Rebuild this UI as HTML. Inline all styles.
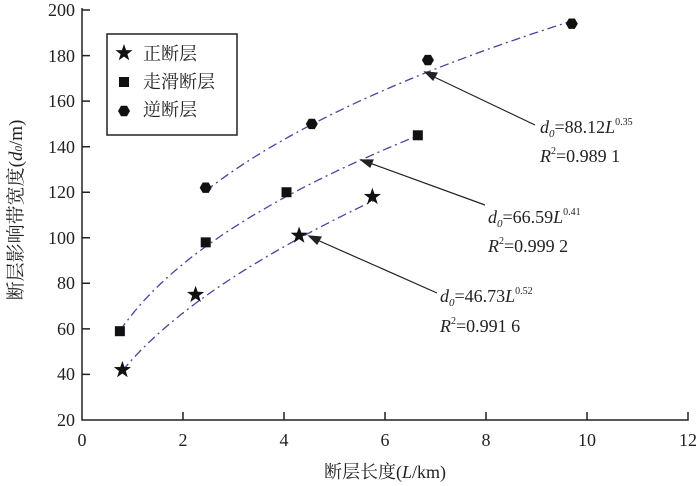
<!DOCTYPE html><html><head><meta charset="utf-8"><style>body{margin:0;background:#fff}svg{display:block}text{font-family:"Liberation Serif","Noto Serif CJK SC",serif;fill:#222}</style></head><body>
<svg id="s" width="700" height="486" xmlns="http://www.w3.org/2000/svg">
<g stroke="#222" stroke-width="1.5" fill="none">
<path d="M82,8 V420 H688 V412"/>
<path d="M82,10h8M82,55.6h8M82,101.1h8M82,146.7h8M82,192.2h8M82,237.8h8M82,283.3h8M82,328.9h8M82,374.4h8"/>
<path d="M183,420v-8M284,420v-8M385,420v-8M486,420v-8M587,420v-8"/>
</g>
<g font-size="18" text-anchor="end">
<text x="75" y="16">200</text><text x="75" y="62">180</text><text x="75" y="107">160</text><text x="75" y="153">140</text><text x="75" y="198">120</text><text x="75" y="244">100</text><text x="75" y="289">80</text><text x="75" y="335">60</text><text x="75" y="380">40</text><text x="75" y="426">20</text>
</g>
<g font-size="18" text-anchor="middle">
<text x="82" y="446">0</text><text x="183" y="446">2</text><text x="284" y="446">4</text><text x="385" y="446">6</text><text x="486" y="446">8</text><text x="587" y="446">10</text><text x="688" y="446">12</text>
<text x="385" y="478">断层长度(<tspan font-style="italic">L</tspan>/km)</text>
<text transform="translate(22,210) rotate(-90)" font-size="19">断层影响带宽度(<tspan font-style="italic">d</tspan><tspan font-size="11" font-style="italic">0</tspan>/m)</text>
</g>
<rect x="107" y="34" width="130" height="101" fill="#fff" stroke="#222" stroke-width="1.5"/>
<g font-size="18"><text x="143" y="60">正断层</text><text x="143" y="88">走滑断层</text><text x="143" y="116">逆断层</text></g>
<g id="c" fill="none" stroke="#5040a0" stroke-width="1.3" stroke-dasharray="9,4,2,4"></g>
<g id="m" fill="#111"></g>
<g stroke="#222" stroke-width="1.2" fill="#222">
<path d="M535,125L430,75"/><path d="M425,72l12,1l-4,7z"/>
<path d="M485,205L367,162"/><path d="M361,160l12,0l-3,7z"/>
<path d="M437,293L315,239"/><path d="M309,236l12,1l-4,7z"/>
</g>
<g font-size="18" font-style="italic">
<text x="540" y="133">d<tspan font-size="11" dy="4">0</tspan><tspan font-style="normal" dy="-4">=88.12</tspan>L<tspan font-size="10" font-style="normal" dy="-8">0.35</tspan></text>
<text x="540" y="162">R<tspan font-size="10" font-style="normal" dy="-8">2</tspan><tspan font-style="normal" dy="8">=0.989 1</tspan></text>
<text x="488" y="223">d<tspan font-size="11" dy="4">0</tspan><tspan font-style="normal" dy="-4">=66.59</tspan>L<tspan font-size="10" font-style="normal" dy="-8">0.41</tspan></text>
<text x="488" y="252">R<tspan font-size="10" font-style="normal" dy="-8">2</tspan><tspan font-style="normal" dy="8">=0.999 2</tspan></text>
<text x="440" y="302">d<tspan font-size="11" dy="4">0</tspan><tspan font-style="normal" dy="-4">=46.73</tspan>L<tspan font-size="10" font-style="normal" dy="-8">0.52</tspan></text>
<text x="440" y="332">R<tspan font-size="10" font-style="normal" dy="-8">2</tspan><tspan font-style="normal" dy="8">=0.991 6</tspan></text>
</g>
</svg>
<script>
var X=function(v){return 82+v*50.5},Y=function(v){return 10+(200-v)*2.278};
var c=document.getElementById('c'),m=document.getElementById('m'),NS='http://www.w3.org/2000/svg';
function curve(a,b,x0,x1){var d='';for(var i=0;i<=60;i++){var L=x0+(x1-x0)*i/60;d+=(i?'L':'M')+X(L).toFixed(1)+','+Y(a*Math.pow(L,b)).toFixed(1);}var p=document.createElementNS(NS,'path');p.setAttribute('d',d);c.appendChild(p);}
curve(46.73,0.52,0.8,5.8);curve(66.59,0.41,0.75,6.7);curve(88.12,0.35,2.45,9.7);
function add(tag,at){var e=document.createElementNS(NS,tag);for(var k in at)e.setAttribute(k,at[k]);m.appendChild(e);}
function star(x,y,r){var p='';for(var i=0;i<10;i++){var a=-Math.PI/2+i*Math.PI/5,rr=i%2?r*0.4:r;p+=(x+rr*Math.cos(a)).toFixed(1)+','+(y+rr*Math.sin(a)).toFixed(1)+' ';}add('polygon',{points:p});}
function hex(x,y,r){var p='';for(var i=0;i<6;i++){var a=i*Math.PI/3;p+=(x+r*Math.cos(a)).toFixed(1)+','+(y+r*Math.sin(a)).toFixed(1)+' ';}add('polygon',{points:p});}
function sq(x,y,r){add('rect',{x:x-r,y:y-r,width:2*r,height:2*r});}
[[0.8,42],[2.25,75],[4.3,101],[5.75,118]].forEach(function(p){star(X(p[0]),Y(p[1]),9)});
[[0.75,59],[2.45,98],[4.05,120],[6.65,145]].forEach(function(p){sq(X(p[0]),Y(p[1]),5)});
[[2.45,122],[4.55,150],[6.85,178],[9.7,194]].forEach(function(p){hex(X(p[0]),Y(p[1]),6)});
star(124,53,9);sq(124,82,5);hex(124,111,6);
</script>
</body></html>
